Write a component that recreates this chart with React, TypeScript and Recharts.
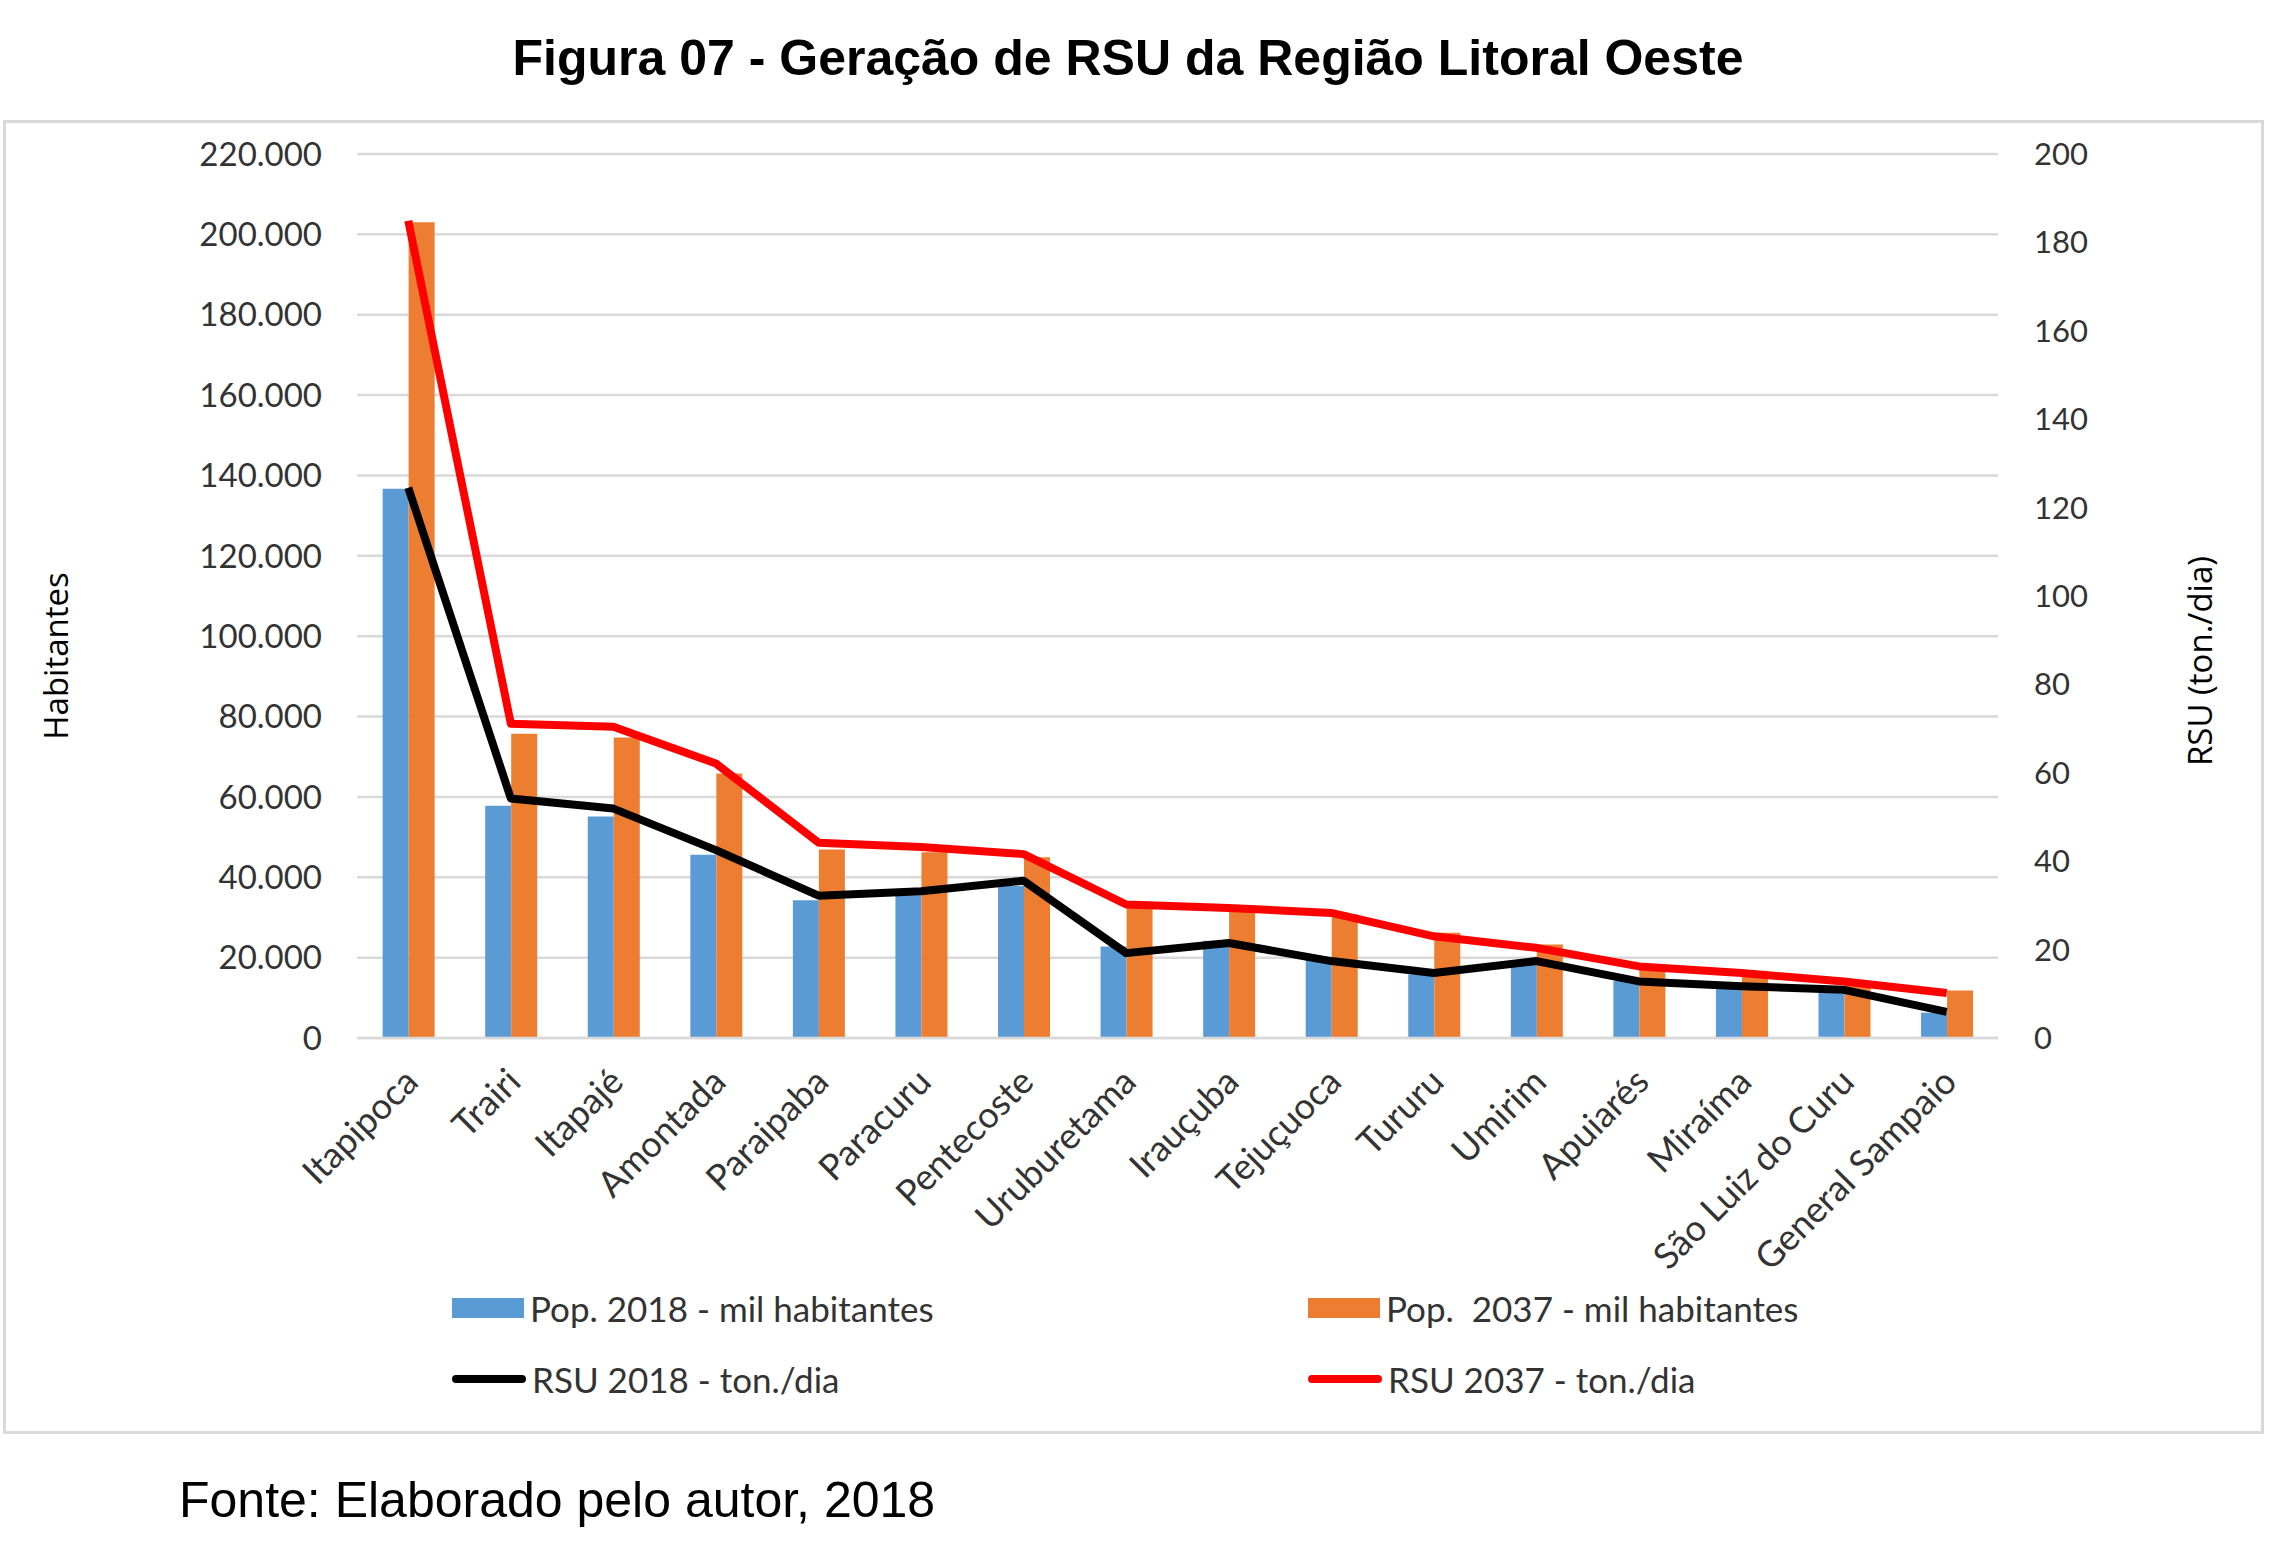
import React from 'react'
import {
  ComposedChart, Bar, Line, XAxis, YAxis, CartesianGrid
} from 'recharts'

const W = 2269
const H = 1557

const categories = [
  'Itapipoca', 'Trairi', 'Itapajé', 'Amontada', 'Paraipaba', 'Paracuru', 'Pentecoste', 'Uruburetama',
  'Irauçuba', 'Tejuçuoca', 'Tururu', 'Umirim', 'Apuiarés', 'Miraíma', 'São Luiz do Curu', 'General Sampaio'
]
const pop2018 = [136700, 57800, 55100, 45600, 34300, 35500, 37800, 22800, 24200, 19500, 15800, 18800, 14200, 13300, 12100, 6300]
const pop2037 = [203000, 75700, 74800, 65800, 46900, 46200, 45000, 32500, 32000, 30800, 26200, 23300, 17500, 15400, 13800, 11800]
const rsu2018 = [124.5, 54.2, 51.9, 42.5, 32.2, 33.2, 35.6, 19.2, 21.5, 17.4, 14.7, 17.4, 12.8, 11.7, 10.9, 5.9]
const rsu2037 = [184.9, 71.1, 70.4, 62.1, 44.2, 43.2, 41.6, 30.2, 29.4, 28.3, 23.0, 20.4, 16.2, 14.7, 12.8, 10.2]

const leftTicks = [0, 20000, 40000, 60000, 80000, 100000, 120000, 140000, 160000, 180000, 200000, 220000]
const rightTicks = [0, 20, 40, 60, 80, 100, 120, 140, 160, 180, 200]

const BLUE = '#5B9BD5'
const ORANGE = '#ED7D31'
const TICK_FONT = 'Lato, "Open Sans", sans-serif'

const data = categories.map((name, i) => ({
  name,
  pop2018: pop2018[i],
  pop2037: pop2037[i],
  rsu2018: rsu2018[i],
  rsu2037: rsu2037[i],
}))

// 220000 -> "220.000"
function fmtDots(v: number): string {
  return String(v).replace(/\B(?=(\d{3})+(?!\d))/g, '.')
}

function CategoryTick({ x, y, payload }: any) {
  return (
    <g transform={`translate(${x + 12},${y + 46})`}>
      <text x={0} y={0} textAnchor="end" transform="rotate(-45)"
        fontFamily={TICK_FONT} fontSize={36} fill="#333333">
        {payload.value}
      </text>
    </g>
  )
}

const legendItems = [
  { label: 'Pop. 2018 - mil habitantes', color: BLUE, kind: 'bar', left: 452, top: 1308 },
  { label: 'Pop.\u00a0 2037 - mil habitantes', color: ORANGE, kind: 'bar', left: 1308, top: 1308 },
  { label: 'RSU 2018 - ton./dia', color: '#000000', kind: 'line', left: 452, top: 1379 },
  { label: 'RSU 2037 - ton./dia', color: '#FF0000', kind: 'line', left: 1308, top: 1379 },
]

function LegendBox() {
  return (
    <div style={{ position: 'absolute', left: 0, top: 0 }}>
      {legendItems.map(it => (
        <div key={it.label} style={{ position: 'absolute', left: it.left, top: it.top - 22, height: 44, display: 'flex', alignItems: 'center' }}>
          {it.kind === 'bar'
            ? <div style={{ width: 72, height: 20, background: it.color }} />
            : <div style={{ width: 74, height: 8, background: it.color, borderRadius: 4 }} />}
          <span style={{ marginLeft: 6, fontFamily: TICK_FONT, fontSize: 35, color: '#333333', whiteSpace: 'pre' }}>{it.label}</span>
        </div>
      ))}
    </div>
  )
}

export default function App() {
  return (
    <div style={{ position: 'absolute', left: 0, top: 0, width: W, height: H, background: '#fff', overflow: 'hidden' }}>
      <div style={{ position: 'absolute', left: 3, top: 120, width: 2255, height: 1308, border: '3px solid #d9d9d9' }} />
      <div style={{ position: 'absolute', left: 0, top: 0 }}>
        <ComposedChart width={W} height={H} data={data}
          margin={{ top: 154, right: 171, left: 237, bottom: 219 }}
          barCategoryGap="25%" barGap={0}>
          <CartesianGrid vertical={false} stroke="#d9d9d9" strokeWidth={2.5} yAxisId="left" />
          <XAxis dataKey="name" height={300} tick={<CategoryTick />} tickLine={false}
            axisLine={{ stroke: '#d9d9d9', strokeWidth: 2.5 }} interval={0} tickSize={0} tickMargin={0} />
          <YAxis yAxisId="left" orientation="left" width={120} domain={[0, 220000]} ticks={leftTicks}
            tickFormatter={fmtDots} axisLine={false} tickLine={false} tickSize={0} tickMargin={35}
            tick={{ fontFamily: TICK_FONT, fontSize: 33, fill: '#333333' }} interval={0} />
          <YAxis yAxisId="right" orientation="right" width={100} domain={[0, 200]} ticks={rightTicks}
            axisLine={false} tickLine={false} tickSize={0} tickMargin={36}
            tick={{ fontFamily: TICK_FONT, fontSize: 31, fill: '#333333' }} interval={0} />
          <Bar yAxisId="left" dataKey="pop2018" fill={BLUE} isAnimationActive={false} />
          <Bar yAxisId="left" dataKey="pop2037" fill={ORANGE} isAnimationActive={false} />
          <Line yAxisId="right" type="linear" dataKey="rsu2018" stroke="#000000" strokeWidth={8}
            strokeLinejoin="round" dot={false} activeDot={false} isAnimationActive={false} />
          <Line yAxisId="right" type="linear" dataKey="rsu2037" stroke="#FF0000" strokeWidth={8}
            strokeLinejoin="round" dot={false} activeDot={false} isAnimationActive={false} />
        </ComposedChart>
      </div>
      <LegendBox />
      <svg width={W} height={H} style={{ position: 'absolute', left: 0, top: 0, pointerEvents: 'none' }}>
        <text x={1128} y={75} textAnchor="middle" fontFamily='"Liberation Sans", Arial, sans-serif'
          fontWeight="bold" fontSize={50} fill="#000">
          Figura 07 - Geração de RSU da Região Litoral Oeste
        </text>
        <text x={179} y={1517} fontFamily='"Liberation Sans", Arial, sans-serif' fontSize={50} fill="#000">
          Fonte: Elaborado pelo autor, 2018
        </text>
        <text x={0} y={0} transform="translate(68,656) rotate(-90)" textAnchor="middle"
          fontFamily='"Open Sans", sans-serif' fontSize={33} fill="#000">
          Habitantes
        </text>
        <text x={0} y={0} transform="translate(2212,661) rotate(-90)" textAnchor="middle"
          fontFamily='"Open Sans", sans-serif' fontSize={33} fill="#000">
          RSU (ton./dia)
        </text>
      </svg>
    </div>
  )
}
